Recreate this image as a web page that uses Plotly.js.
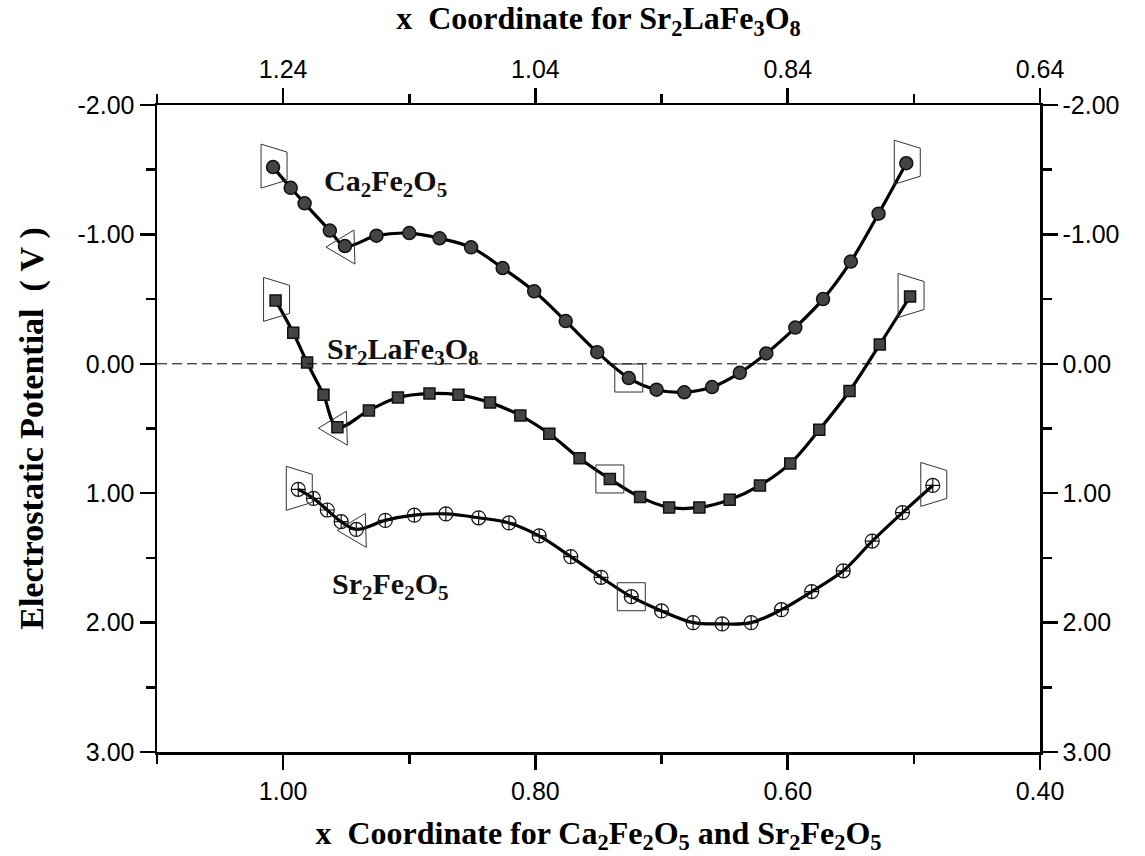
<!DOCTYPE html>
<html><head><meta charset="utf-8">
<script src="https://cdn.plot.ly/plotly-3.0.1.min.js"></script>
<style>html,body{margin:0;padding:0;background:#fff}</style>
</head><body><div id="chart" style="width:1145px;height:856px"></div>
<script>
// ---- data ----
const caX = [1.008,0.994,0.983,0.963,0.951,0.926,0.900,0.876,0.851,0.826,0.801,0.776,0.751,0.726,0.704,0.682,0.660,0.638,0.617,0.594,0.572,0.550,0.528,0.506];
const caY = [-1.52,-1.36,-1.24,-1.03,-0.91,-0.99,-1.01,-0.97,-0.90,-0.74,-0.56,-0.33,-0.09,0.11,0.20,0.22,0.18,0.07,-0.08,-0.28,-0.50,-0.79,-1.16,-1.55];
// Sr2LaFe3O8 uses its own (top) x coordinate
const slX = [1.246,1.232,1.221,1.208,1.197,1.172,1.149,1.124,1.101,1.076,1.052,1.029,1.005,0.981,0.957,0.934,0.910,0.886,0.862,0.838,0.815,0.791,0.767,0.743];
const slY = [-0.49,-0.24,-0.01,0.24,0.49,0.36,0.26,0.23,0.24,0.30,0.40,0.54,0.73,0.89,1.03,1.11,1.11,1.05,0.94,0.77,0.51,0.21,-0.15,-0.52];
const sfX = [0.988,0.976,0.965,0.954,0.942,0.919,0.896,0.871,0.845,0.821,0.797,0.772,0.748,0.724,0.700,0.675,0.652,0.629,0.605,0.581,0.556,0.533,0.509,0.485];
const sfY = [0.97,1.04,1.13,1.22,1.28,1.21,1.17,1.16,1.19,1.23,1.33,1.49,1.65,1.80,1.91,2.00,2.01,2.00,1.90,1.76,1.60,1.37,1.15,0.94];

const bottomTickVals = [1.00,0.80,0.60,0.40];
const bottomTickText = ['1.00','0.80','0.60','0.40'];
const bottomMinor = [1.10,0.90,0.70,0.50];
const topTickVals = [1.24,1.04,0.84,0.64];
const topTickText = ['1.24','1.04','0.84','0.64'];
const topMinor = [1.34,1.14,0.94,0.74];
const yTickVals = [-2,-1,0,1,2,3];
const yTickText = ['-2.00','-1.00','0.00','1.00','2.00','3.00'];
const yMinor = [-1.5,-0.5,0.5,1.5,2.5];

const labelCa = 'Ca<sub>2</sub>Fe<sub>2</sub>O<sub>5</sub>';
const labelSL = 'Sr<sub>2</sub>LaFe<sub>3</sub>O<sub>8</sub>';
const labelSF = 'Sr<sub>2</sub>Fe<sub>2</sub>O<sub>5</sub>';
const titleBottom = 'x\u00A0\u00A0Coordinate for Ca<sub>2</sub>Fe<sub>2</sub>O<sub>5</sub> and Sr<sub>2</sub>Fe<sub>2</sub>O<sub>5</sub>';
const titleTop = 'x\u00A0\u00A0Coordinate for Sr<sub>2</sub>LaFe<sub>3</sub>O<sub>8</sub>';
const titleY = 'Electrostatic Potential\u00A0\u00A0(\u00A0V\u00A0)';

// highlighted point indices and their frame kind
const markIdx = [0,4,13,23];
const markKind = ['trap','tri','sq','trap'];

// ---- styling ----
const frames = {
  trap: [[-12,-23],[14,-15],[14,13],[-12,21]],
  tri: [[-19,1],[9,-16],[10,18]],
  sq: [[-14,-14],[14,-14],[14,14],[-14,14]]
};
function framePath(kind){
  const p = frames[kind];
  return p.map((v,i)=>(i?'L':'M')+v[0]+','+(-v[1])).join(' ')+' Z';
}
const serif = 'Liberation Serif, Times New Roman, serif';
const sans = 'Liberation Sans, Arial, sans-serif';
const lineStyle = {color:'#000', width:3.2, shape:'spline', smoothing:1};

const traces = [
  {x:caX, y:caY, xaxis:'x', yaxis:'y', mode:'lines+markers', line:lineStyle,
   marker:{symbol:'circle', size:13, color:'#444', line:{color:'#111', width:1.5}}, name:'Ca2Fe2O5'},
  {x:slX, y:slY, xaxis:'x2', yaxis:'y2', mode:'lines+markers', line:lineStyle,
   marker:{symbol:'square', size:11, color:'#444', line:{color:'#111', width:1.5}}, name:'Sr2LaFe3O8'},
  {x:sfX, y:sfY, xaxis:'x', yaxis:'y', mode:'lines+markers', line:lineStyle,
   marker:{symbol:'circle-cross-open', size:14, color:'#111', line:{width:1.2}}, name:'Sr2Fe2O5'}
];

const shapes = [{type:'line', xref:'paper', x0:0, x1:1, yref:'y', y0:0, y1:0,
  line:{color:'#000', width:1, dash:'10px,5px'}}];
[[caX,caY,'x'],[slX,slY,'x2'],[sfX,sfY,'x']].forEach(([xs,ys,xr])=>{
  markIdx.forEach((idx,k)=>{
    shapes.push({type:'path', xref:xr, yref:'y', xsizemode:'pixel', ysizemode:'pixel',
      xanchor:xs[idx], yanchor:ys[idx], path:framePath(markKind[k]),
      line:{color:'#333', width:1}});
  });
});

const annFont = {family:serif, size:30, color:'#111'};
const annotations = [
  {x:0.969, y:-1.40, xref:'x', yref:'y', text:'<b>'+labelCa+'</b>', showarrow:false, xanchor:'left', yanchor:'middle', font:annFont},
  {x:0.967, y:-0.10, xref:'x', yref:'y', text:'<b>'+labelSL+'</b>', showarrow:false, xanchor:'left', yanchor:'middle', font:annFont},
  {x:0.963, y:1.72, xref:'x', yref:'y', text:'<b>'+labelSF+'</b>', showarrow:false, xanchor:'left', yanchor:'middle', font:annFont}
];

const tickFont = {family:sans, size:25, color:'#000'};
const titleFont = {family:serif, size:32, color:'#000'};
const common = {showline:true, linecolor:'#000', linewidth:2.5, ticks:'outside', ticklen:15,
  tickwidth:2.5, tickcolor:'#000', showgrid:false, zeroline:false, tickfont:tickFont, tickmode:'array'};
const minorStyle = {tickmode:'array', ticks:'outside', ticklen:9, tickwidth:2.5, tickcolor:'#000'};

const layout = {
  width:1145, height:856,
  margin:{l:157, r:105, t:105, b:104},
  paper_bgcolor:'#fff', plot_bgcolor:'#fff',
  showlegend:false,
  xaxis:Object.assign({}, common, {range:[1.10,0.40], side:'bottom', anchor:'y',
    tickvals:bottomTickVals, ticktext:bottomTickText,
    minor:Object.assign({tickvals:bottomMinor}, minorStyle),
    title:{text:'<b>'+titleBottom+'</b>', font:titleFont, standoff:18}}),
  xaxis2:Object.assign({}, common, {range:[1.34,0.64], side:'top', overlaying:'x', anchor:'y',
    tickvals:topTickVals, ticktext:topTickText,
    minor:Object.assign({tickvals:topMinor}, minorStyle),
    title:{text:'<b>'+titleTop+'</b>', font:titleFont, standoff:22}}),
  yaxis:Object.assign({}, common, {range:[3,-2], side:'left', anchor:'x',
    tickvals:yTickVals, ticktext:yTickText,
    minor:Object.assign({tickvals:yMinor}, minorStyle),
    title:{text:'<b>'+titleY+'</b>', font:{family:serif, size:34, color:'#000'}, standoff:24}}),
  yaxis2:Object.assign({}, common, {range:[3,-2], side:'right', overlaying:'y', anchor:'x',
    tickvals:yTickVals, ticktext:yTickText,
    minor:Object.assign({tickvals:yMinor}, minorStyle)}),
  shapes:shapes,
  annotations:annotations
};

Plotly.newPlot('chart', traces, layout, {displayModeBar:false, staticPlot:true});
</script></body></html>
